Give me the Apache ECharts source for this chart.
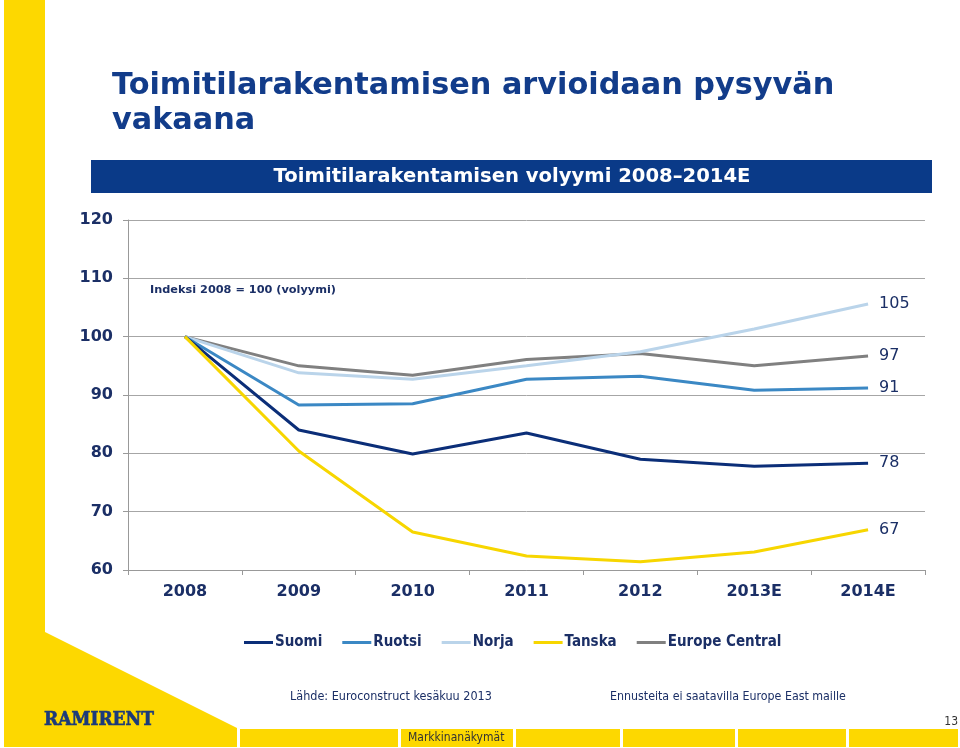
<!DOCTYPE html>
<html>
<head>
<meta charset="utf-8">
<script src="https://cdn.jsdelivr.net/npm/echarts@6/dist/echarts.min.js"></script>
<style>html,body{margin:0;padding:0;background:#fff;}#c{width:960px;height:748px;}</style>
</head>
<body>
<div id="c"></div>
<script>
const categories = ['2008', '2009', '2010', '2011', '2012', '2013E', '2014E'];
const suomi   = [100, 84.0, 79.9, 83.5, 79.0, 77.8, 78.3];
const ruotsi  = [100, 88.3, 88.5, 92.7, 93.2, 90.8, 91.2];
const norja   = [100, 93.8, 92.7, 95.0, 97.4, 101.3, 105.6];
const tanska  = [100, 80.4, 66.5, 62.4, 61.4, 63.1, 66.9];
const europe  = [100, 95.0, 93.4, 96.1, 97.1, 95.0, 96.7];
const seriesNames = ['Suomi', 'Ruotsi', 'Norja', 'Tanska', 'Europe Central'];
const endLabels = ['78', '91', '105', '67', '97'];
const yTicks = [60, 70, 80, 90, 100, 110, 120];

const NAVY = '#1b2f66';
const colors = ['#0b2e78', '#3b88c4', '#bad4ea', '#f7d600', '#808080'];
const data = [suomi, ruotsi, norja, tanska, europe];
const YEL = '#fdd800';

const chart = echarts.init(document.getElementById('c'));
const stripSegs = [[240,398],[401,513],[516,620],[623,735],[738,846],[849,958]];
const graphics = [
  {type:'polygon', z:0, shape:{points:[[4,0],[45,0],[45,632],[237,728],[237,747],[4,747]]}, style:{fill:YEL}},
  ...stripSegs.map(s => ({type:'rect', z:0, shape:{x:s[0], y:729, width:s[1]-s[0], height:18}, style:{fill:YEL}})),
  {type:'text', left:112, top:69, style:{text:'Toimitilarakentamisen arvioidaan pysyvän\nvakaana', fill:'#123c8a', font:'bold 30.3px "DejaVu Sans"', lineHeight:35}},
  {type:'rect', shape:{x:91, y:160, width:841, height:33}, style:{fill:'#0a3a88'}},
  {type:'text', x:512, y:177, style:{text:'Toimitilarakentamisen volyymi 2008–2014E', fill:'#fff', font:'bold 19.6px "DejaVu Sans"', align:'center', verticalAlign:'middle'}},
  {type:'text', x:150, y:290, style:{text:'Indeksi 2008 = 100 (volyymi)', fill:NAVY, font:'bold 11.3px "DejaVu Sans"', verticalAlign:'middle'}},
  {type:'text', x:290, y:697, style:{text:'Lähde: Euroconstruct kesäkuu 2013', fill:NAVY, font:'12.5px "DejaVu Sans Condensed"', verticalAlign:'middle'}},
  {type:'text', x:610, y:697, style:{text:'Ennusteita ei saatavilla Europe East maille', fill:NAVY, font:'12.3px "DejaVu Sans Condensed"', verticalAlign:'middle'}},
  {type:'text', x:408, y:738, style:{text:'Markkinanäkymät', fill:'#333', font:'12px "DejaVu Sans Condensed"', verticalAlign:'middle'}},
  {type:'text', x:958, y:722, style:{text:'13', fill:'#333', font:'12px "DejaVu Sans Condensed"', align:'right', verticalAlign:'middle'}},
  {type:'text', x:44, y:720, style:{text:'RAMIRENT', fill:'#1b3a7a', font:'bold 19px "DejaVu Serif Condensed"', verticalAlign:'middle', stroke:'#1b3a7a', lineWidth:0.6}}
];

chart.setOption({
  animation: false,
  backgroundColor: '#fff',
  graphic: graphics,
  grid: {left: 128, right: 35, top: 220, bottom: 178, containLabel: false},
  legend: {
    data: seriesNames, top: 630, left: 239, icon: 'rect', itemWidth: 29, itemHeight: 3, itemGap: 20,
    textStyle: {color: NAVY, fontWeight: 'bold', fontSize: 15, fontFamily: '"DejaVu Sans Condensed"', padding: [0,0,0,-3]}
  },
  xAxis: {
    type: 'category', data: categories, boundaryGap: true,
    axisLine: {lineStyle: {color: '#999', width: 1}},
    axisTick: {show: true, length: 5, lineStyle: {color: '#999'}},
    axisLabel: {color: NAVY, fontWeight: 'bold', fontSize: 16, fontFamily: '"DejaVu Sans"', margin: 14}
  },
  yAxis: {
    type: 'value', min: 60, max: 120, interval: 10,
    axisLine: {show: true, lineStyle: {color: '#999'}},
    axisTick: {show: true, length: 5, lineStyle: {color: '#999'}},
    splitLine: {lineStyle: {color: '#a6a6a6', width: 1}},
    axisLabel: {color: NAVY, fontWeight: 'bold', fontSize: 16, fontFamily: '"DejaVu Sans"', margin: 15,
      formatter: v => yTicks.includes(v) ? String(v) : ''}
  },
  series: seriesNames.map((n, i) => ({
    name: n, type: 'line', data: data[i], symbol: 'none', z: [5,4,3,6,2][i],
    lineStyle: {color: colors[i], width: 3}, itemStyle: {color: colors[i]},
    endLabel: {show: true, formatter: () => endLabels[i], color: NAVY, fontSize: 16, fontFamily: '"DejaVu Sans"', distance: 11}
  }))
});
</script>
</body>
</html>
